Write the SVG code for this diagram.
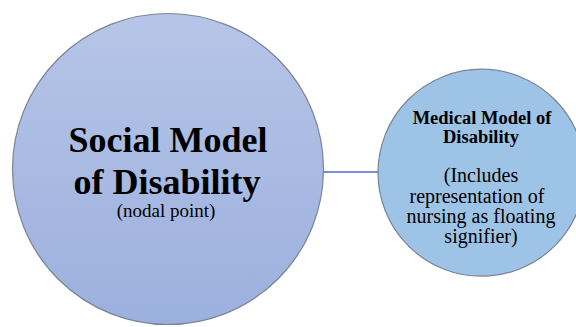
<svg xmlns="http://www.w3.org/2000/svg" width="576" height="327" viewBox="0 0 576 327">
  <defs>
    <linearGradient id="socialFill" x1="0" y1="0" x2="0" y2="1">
      <stop offset="0" stop-color="#b6c5e7"/>
      <stop offset="1" stop-color="#9cb0de"/>
    </linearGradient>
    <style>
      .node-shape { stroke: #7b8496; stroke-width: 1.2; }
      .title { font-family: "Liberation Serif", "Times New Roman", serif; font-weight: bold; fill: #000; text-anchor: middle; }
      .body { font-family: "Liberation Serif", "Times New Roman", serif; fill: #000; text-anchor: middle; }
      .link { stroke: #4a6fc4; stroke-width: 1.6; fill: none; }
    </style>
  </defs>
  <rect width="576" height="327" fill="#ffffff"/>

  <g id="connectors">
    <line class="link" x1="322" y1="172" x2="378" y2="172"/>
  </g>

  <g id="social-model">
    <circle class="node-shape" cx="168" cy="169" r="155.5" fill="url(#socialFill)"/>
    <text class="title" x="168" y="152" font-size="36">Social Model</text>
    <text class="title" x="167" y="194" font-size="36">of Disability</text>
    <text class="body" x="166" y="217" font-size="19">(nodal point)</text>
  </g>

  <g id="medical-model">
    <circle class="node-shape" cx="481.5" cy="172.7" r="103.5" fill="#9dc3e6"/>
    <text class="title" x="482" y="123.5" font-size="18.5">Medical Model of</text>
    <text class="title" x="481" y="143" font-size="18.5">Disability</text>
    <text class="body" x="481" y="182" font-size="20">(Includes</text>
    <text class="body" x="477" y="202.5" font-size="20">representation of</text>
    <text class="body" x="481" y="223" font-size="20">nursing as floating</text>
    <text class="body" x="481" y="243" font-size="20">signifier)</text>
  </g>
</svg>
